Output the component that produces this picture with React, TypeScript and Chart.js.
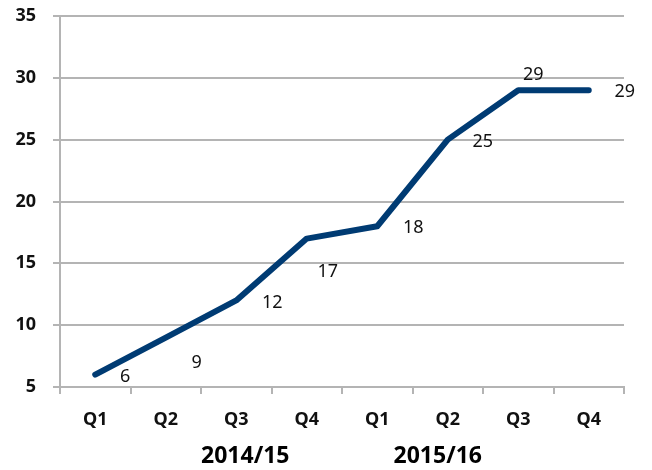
import React, { useEffect, useRef } from "react";
import { Chart, registerables } from "chart.js";

Chart.register(...registerables);

const quarters = ["Q1", "Q2", "Q3", "Q4", "Q1", "Q2", "Q3", "Q4"];
const values = [6, 9, 12, 17, 18, 25, 29, 29];
const yearLabels = ["2014/15", "2015/16"];
const yTicks = [5, 10, 15, 20, 25, 30, 35];

// label offsets (px) relative to each point
const labelDx = [30, 31, 36, 21, 36, 35, 15, 36];
const labelDy = [2, 25, 2, 33, 2, 2, -15, 2];
// year label anchors: category index and pixel shift
const yearAnchor = [2, 5];
const yearShift = [9, -10];

const FONT = "'Noto Sans', 'DejaVu Sans', sans-serif";
const GRID = "#b4b4b4";

export default function App() {
  const ref = useRef<HTMLCanvasElement>(null);
  useEffect(() => {
    document.body.style.margin = "0";
    const labelPlugin = {
      id: "labels",
      afterDatasetsDraw(chart: any) {
        const ctx = chart.ctx;
        const meta = chart.getDatasetMeta(0);
        ctx.save();
        ctx.fillStyle = "#111";
        ctx.font = `18px ${FONT}`;
        ctx.textAlign = "center";
        ctx.textBaseline = "middle";
        meta.data.forEach((pt: any, i: number) => {
          ctx.fillText(String(values[i]), pt.x + labelDx[i], pt.y + labelDy[i]);
        });
        const xs = chart.scales.x;
        ctx.font = `bold 23px ${FONT}`;
        ctx.fillStyle = "#000";
        yearLabels.forEach((t, i) => {
          ctx.fillText(t, xs.getPixelForValue(yearAnchor[i]) + yearShift[i], 456);
        });
        ctx.restore();
      },
    };
    const chart = new Chart(ref.current!, {
      type: "line",
      data: {
        labels: quarters,
        datasets: [
          {
            data: values,
            borderColor: "#003b73",
            borderWidth: 6,
            pointRadius: 0,
            tension: 0,
            borderCapStyle: "round",
            borderJoinStyle: "round",
          } as any,
        ],
      },
      options: {
        animation: false,
        responsive: false,
        layout: { padding: { top: 0, right: 28, left: 0, bottom: 0 } },
        plugins: { legend: { display: false }, tooltip: { enabled: false } },
        scales: {
          x: {
            offset: true,
            grid: {
              offset: true,
              drawOnChartArea: false,
              color: GRID,
              lineWidth: 2,
              tickLength: 7,
            },
            border: { color: GRID, width: 2 },
            ticks: {
              color: "#111",
              font: { family: FONT, size: 18, weight: "bold" },
              padding: 15,
              maxRotation: 0,
            },
            afterFit(s: any) {
              s.height = 83;
            },
          },
          y: {
            min: 5,
            max: 35,
            afterBuildTicks(s: any) {
              s.ticks = yTicks.map((v) => ({ value: v }));
            },
            grid: { color: GRID, lineWidth: 2, tickLength: 7 },
            border: { color: GRID, width: 2 },
            ticks: {
              color: "#111",
              font: { family: FONT, size: 18, weight: "bold" },
              padding: 17,
            },
            afterFit(s: any) {
              s.width = 60;
              s.paddingTop = 16;
            },
          },
        },
      },
      plugins: [labelPlugin],
    });
    return () => chart.destroy();
  }, []);
  return (
    <div style={{ position: "fixed", left: 0, top: 0, width: 652, height: 470, background: "#fff" }}>
      <canvas ref={ref} width={652} height={470} />
    </div>
  );
}
